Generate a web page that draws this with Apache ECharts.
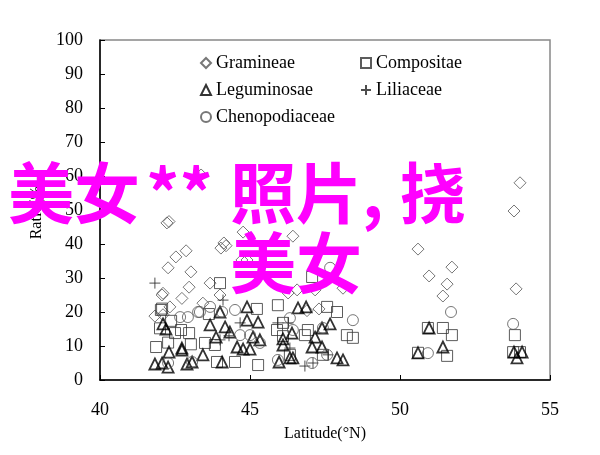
<!DOCTYPE html>
<html><head><meta charset="utf-8">
<script src="https://cdn.jsdelivr.net/npm/echarts@6/dist/echarts.min.js"></script>
<style>html,body{margin:0;padding:0;background:#fff}#c{width:600px;height:455px}</style>
</head><body><div id="c"></div>
<script>
var xTicks = [40, 45, 50, 55];
var yTicks = [0, 10, 20, 30, 40, 50, 60, 70, 80, 90, 100];
var seriesNames = ['Gramineae', 'Compositae', 'Leguminosae', 'Liliaceae', 'Chenopodiaceae'];

var gramineae = [[43.37,60.3],[42.23,46.2],[42.3,46.6],[44.77,43.5],[46.43,42.3],[44.13,40.3],[44.03,38.8],[44.2,39.5],[42.87,38],[42.53,36.2],[44.73,35.3],[44.9,35.3],[42.27,33],[43.03,31.8],[42.97,27.3],[43.67,28.5],[44.0,25],[42.73,24],[42.07,25],[42.1,25.5],[42.33,21.5],[41.83,18.8],[42.1,19.2],[43.43,22.6],[47.17,26.5],[46.27,25.6],[46.57,26.5],[46.9,20.4],[47.3,20.9],[48.1,27],[54.0,58],[53.8,49.7],[53.87,26.8],[50.6,38.5],[51.73,33.2],[50.97,30.6],[51.57,28.2],[51.43,24.7]];
var compositae = [[44.0,28.5],[42.07,21],[42.03,20.6],[45.23,20.9],[43.63,19.4],[42.37,17.4],[42.97,13.8],[42.5,13.8],[42.0,15.2],[42.7,14.7],[42.27,11],[43.03,10.5],[41.87,9.7],[43.5,10.9],[43.83,10.3],[43.9,5.3],[44.5,5.3],[45.27,4.4],[45.9,14.7],[47.07,30.3],[45.93,22],[47.57,21.5],[47.9,20],[46.1,16.8],[46.1,12.9],[46.83,13.2],[46.93,14.7],[48.23,13.2],[48.43,12.4],[46.33,7.4],[47.43,7.4],[50.93,15.3],[51.43,15.3],[51.73,13.2],[50.6,8],[51.57,7.1],[53.83,13.2],[53.77,8.2],[54.0,8.2]];
var leguminosae = [[42.1,16.5],[42.2,15],[42.73,8.8],[42.3,8.2],[41.83,4.7],[42.07,5],[42.27,3.8],[42.9,4.7],[43.07,5.3],[43.67,16.2],[43.87,12.6],[44.17,15.6],[44.33,14.1],[44.9,21.5],[44.0,20],[44.9,17.6],[45.27,17],[45.1,12.6],[45.33,11.8],[44.57,9.7],[44.77,9.1],[45.0,9.1],[42.73,9.4],[43.43,7.4],[44.07,5.3],[46.6,21.2],[46.87,21.5],[47.67,16.5],[47.4,15.3],[46.4,13.8],[46.1,12.1],[46.1,10.3],[47.17,12.6],[47.07,9.7],[47.4,9.7],[45.97,5.3],[46.33,6.5],[46.43,6.5],[47.9,6.5],[48.1,5.9],[50.97,15.3],[50.6,8],[51.43,9.7],[53.9,6.5],[54.07,8.2],[53.8,8.2]];
var liliaceae = [[41.83,28.5],[44.67,16.8],[44.0,11.8],[46.27,16.8],[44.1,23.5],[45.93,16.8],[46.33,9.4],[46.83,4.1],[47.1,5],[47.6,7.4],[44.3,13]];
var chenopodiaceae = [[42.67,18.5],[42.93,18.5],[43.27,20],[43.33,20],[43.67,21.5],[44.07,20],[44.5,20.6],[44.67,13.2],[45.0,13.2],[45.33,10.9],[43.07,5.3],[42.27,5],[46.33,18.2],[48.43,17.6],[47.67,33],[45.93,5.9],[47.07,5],[47.57,7.4],[46.43,14.7],[47.43,15.3],[51.7,20],[53.77,16.5],[50.93,7.9]];

var overlayPieces = ['美女', '**', '照片', ',', '挠'];
var overlayLine2 = '美女';

var FONT = 'Liberation Serif';
var CJK = 'Noto Sans CJK SC';
var chart = echarts.init(document.getElementById('c'), null, {renderer: 'canvas'});
var plusPath = 'path://M0,5L10,5M5,0L5,10';
function ser(name, data, symbol, size, color, width) {
  return {
    name: name, type: 'scatter', data: data, symbol: symbol, symbolSize: size,
    itemStyle: {color: 'rgba(255,255,255,0)', borderColor: color, borderWidth: width},
    emphasis: {disabled: true}
  };
}
function leg(name, left, top) {
  return {
    data: [name], left: left, top: top, itemWidth: 10, itemHeight: 10, itemGap: 0,
    padding: 0, selectedMode: false,
    textStyle: {fontFamily: FONT, fontSize: 18, color: '#000', padding: [0,0,0,0]}
  };
}
function mag(text, left, top) {
  return {type: 'text', left: left, top: top, z: 100,
    style: {text: text, fontFamily: CJK, fontWeight: 'bold', fontSize: 66, fill: '#ff00ff'}};
}
var option = {
  animation: false,
  backgroundColor: '#fff',
  grid: {left: 100, top: 40, width: 450, height: 340, show: true, borderColor: '#888', borderWidth: 1.5, backgroundColor: 'transparent'},
  legend: [
    leg(seriesNames[0], 200, 54),
    leg(seriesNames[1], 360, 54),
    leg(seriesNames[2], 200, 81),
    leg(seriesNames[3], 360, 81),
    leg(seriesNames[4], 200, 108)
  ],
  xAxis: {
    type: 'value', min: xTicks[0], max: xTicks[xTicks.length-1], interval: 5,
    name: 'Latitude(°N)', nameLocation: 'middle', nameGap: 46,
    nameTextStyle: {fontFamily: FONT, fontSize: 16, color: '#000'},
    axisLine: {lineStyle: {color: '#000', width: 1.5}},
    axisTick: {inside: true, length: 5, lineStyle: {color: '#000'}},
    axisLabel: {fontFamily: FONT, fontSize: 18, color: '#000', margin: 21},
    splitLine: {show: false}
  },
  yAxis: {
    type: 'value', min: yTicks[0], max: yTicks[yTicks.length-1], interval: 10,
    name: 'Ratio(%)', nameLocation: 'middle', nameGap: 52, nameRotate: 90,
    nameTextStyle: {fontFamily: FONT, fontSize: 16, color: '#000'},
    axisLine: {lineStyle: {color: '#000', width: 1.5}},
    axisTick: {inside: true, length: 5, lineStyle: {color: '#000'}},
    axisLabel: {fontFamily: FONT, fontSize: 18, color: '#000', margin: 17},
    splitLine: {show: false}
  },
  series: [
    ser(seriesNames[0], gramineae, 'diamond', 12, '#555', 1),
    ser(seriesNames[1], compositae, 'rect', 11, '#333', 1),
    ser(seriesNames[2], leguminosae, 'triangle', 11, '#000', 1.8),
    ser(seriesNames[3], liliaceae, plusPath, 11, '#222', 1),
    ser(seriesNames[4], chenopodiaceae, 'circle', 11, '#555', 1)
  ],
  graphic: [
    mag(overlayPieces[0], 8, 160),
    mag(overlayPieces[1], 146, 160),
    mag(overlayPieces[2], 230, 160),
    mag(overlayPieces[3], 362, 160),
    mag(overlayPieces[4], 400, 160),
    mag(overlayLine2, 230, 230)
  ]
};
chart.setOption(option);
</script></body></html>
